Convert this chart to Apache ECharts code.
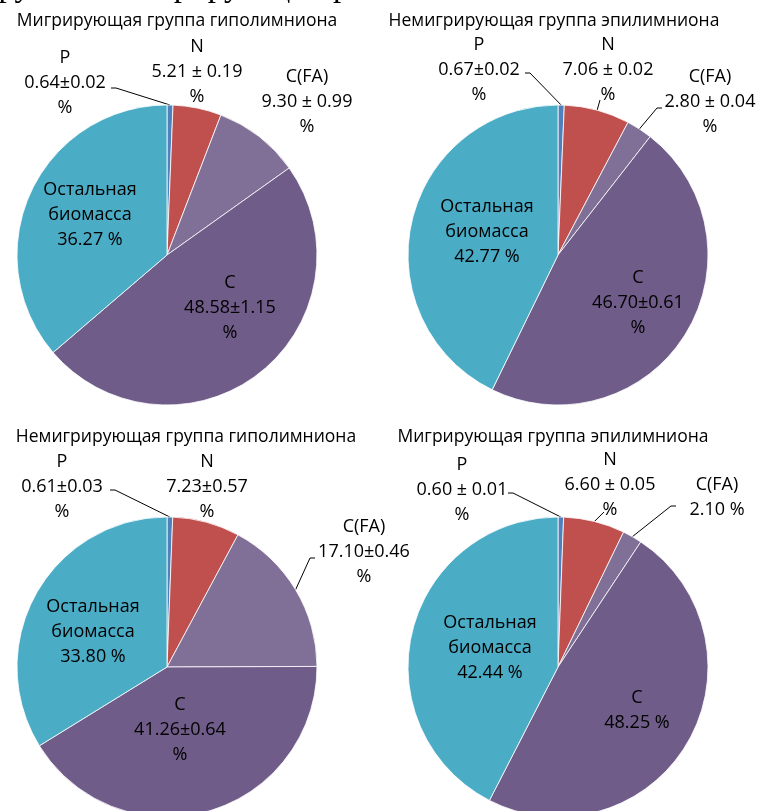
<!DOCTYPE html>
<html>
<head>
<meta charset="utf-8">
<script src="https://cdn.jsdelivr.net/npm/echarts@6/dist/echarts.min.js"></script>
<style>
  html, body { margin: 0; padding: 0; background: #ffffff; }
  #chart { width: 759px; height: 811px; }
</style>
</head>
<body>
<div id="chart"></div>
<script>
// Slice categories (clockwise from 12 o'clock)
const parts = ['P', 'N', 'C(FA)', 'C', 'Остальная биомасса'];

// Panel titles
const panelTitles = [
  'Мигрирующая группа гиполимниона',
  'Немигрирующая группа эпилимниона',
  'Немигрирующая группа гиполимниона',
  'Мигрирующая группа эпилимниона'
];

// Content, % of biomass, with ± errors (null = no error given)
const migHypoValues = [0.64, 5.21, 9.30, 48.58, 36.27];
const migHypoErrors = [0.02, 0.19, 0.99, 1.15, null];

const nonmigEpiValues = [0.67, 7.06, 2.80, 46.70, 42.77];
const nonmigEpiErrors = [0.02, 0.02, 0.04, 0.61, null];

const nonmigHypoValues = [0.61, 7.23, 17.10, 41.26, 33.80];
const nonmigHypoErrors = [0.03, 0.57, 0.46, 0.64, null];

const migEpiValues = [0.60, 6.60, 2.10, 48.25, 42.44];
const migEpiErrors = [0.01, 0.05, null, null, null];

// Whether "±" is written with spaces around it in each label
const migHypoSpaced = [false, true, true, false, false];
const nonmigEpiSpaced = [false, true, true, false, false];
const nonmigHypoSpaced = [false, false, false, false, false];
const migEpiSpaced = [true, true, false, false, false];

const sliceColors = ['#4f81bd', '#c0504d', '#806f97', '#6f5c89', '#4bacc6'];

const FONT = '"Open Sans", "Liberation Sans", sans-serif';
const FS = 18;
const LH = 25;
const R = 150;

// Layout of each panel: pie centre, title centre, label centres relative
// to the pie centre (order: P, N, C(FA), C, rest) and leader lines
// (label-side start and knee, relative to the pie centre).
const panels = [
  {
    values: migHypoValues, errors: migHypoErrors, spaced: migHypoSpaced,
    center: [167, 255], title: [177, 21],
    labelPos: [[-102, -172], [30, -183], [140, -153], [63, 53], [-77, -40]],
    leaders: { 0: [[-56, -167], [-51, -167]] }
  },
  {
    values: nonmigEpiValues, errors: nonmigEpiErrors, spaced: nonmigEpiSpaced,
    center: [558, 255], title: [554, 21],
    labelPos: [[-79, -185], [50, -185], [152, -153], [80, 48], [-71, -23]],
    leaders: { 0: [[-33, -182], [-28, -182]], 1: [[42, -155], [42, -155]], 2: [[104, -147], [99, -147]] }
  },
  {
    values: nonmigHypoValues, errors: nonmigHypoErrors, spaced: nonmigHypoSpaced,
    center: [167, 667], title: [186, 437],
    labelPos: [[-105, -180], [40, -180], [197, -115], [13, 63], [-74, -35]],
    leaders: { 0: [[-57, -177], [-52, -177]], 2: [[148, -109], [143, -109]] }
  },
  {
    values: migEpiValues, errors: migEpiErrors, spaced: migEpiSpaced,
    center: [558, 667], title: [553, 437],
    labelPos: [[-96, -177], [52, -182], [159, -170], [79, 43], [-68, -19]],
    leaders: { 0: [[-50, -174], [-45, -174]], 1: [[46, -155], [46, -155]], 2: [[118, -161], [113, -161]] }
  }
];

function labelText(name, v, e, spaced) {
  if (name === 'Остальная биомасса') return 'Остальная\nбиомасса\n' + v.toFixed(2) + ' %';
  if (e === null) return name + '\n' + v.toFixed(2) + ' %';
  const pm = spaced ? ' ± ' : '±';
  return name + '\n' + v.toFixed(2) + pm + e.toFixed(2) + '\n%';
}

// Point on the outer rim at the middle of slice i (clockwise from top)
function rimPoint(values, i, center) {
  const total = values.reduce((a, b) => a + b, 0);
  let cum = 0;
  for (let k = 0; k < i; k++) cum += values[k];
  const frac = (cum + values[i] / 2) / total;
  const ang = frac * 2 * Math.PI;
  return [center[0] + R * Math.sin(ang), center[1] - R * Math.cos(ang)];
}

const series = panels.map((p) => ({
  type: 'pie',
  center: p.center,
  radius: R,
  startAngle: 90,
  clockwise: true,
  silent: true,
  animation: false,
  avoidLabelOverlap: false,
  itemStyle: { borderColor: '#ffffff', borderWidth: 0.8 },
  label: {
    show: true,
    color: '#000000',
    fontFamily: FONT,
    fontSize: FS,
    lineHeight: LH,
    align: 'center',
    overflow: 'none'
  },
  labelLine: { show: false, lineStyle: { color: '#000000', width: 1 } },
  data: parts.map((name, i) => ({
    name: name,
    value: p.values[i],
    itemStyle: { color: sliceColors[i] },
    label: {
      position: i >= 3 ? 'inside' : 'outside',
      overflow: 'none',
      formatter: labelText(name, p.values[i], p.errors[i], p.spaced[i])
    },
    labelLine: { show: p.leaders[i] !== undefined, length: 5, length2: 5 }
  })),
  labelLayout: function (params) {
    const i = params.dataIndex;
    const c = p.center;
    const pos = p.labelPos[i];
    const out = {
      x: c[0] + pos[0],
      y: c[1] + pos[1],
      align: 'center',
      verticalAlign: 'middle'
    };
    const ld = p.leaders[i];
    if (ld) {
      const rim = rimPoint(p.values, i, c);
      out.labelLinePoints = [
        rim,
        [c[0] + ld[1][0], c[1] + ld[1][1]],
        [c[0] + ld[0][0], c[1] + ld[0][1]]
      ];
    }
    return out;
  }
}));

const graphics = panels.map((p, si) => ({
  type: 'text',
  x: p.title[0],
  y: p.title[1],
  style: {
    text: panelTitles[si],
    fill: '#000000',
    font: '17.5px ' + FONT,
    textAlign: 'center',
    textVerticalAlign: 'middle'
  }
}));

// Caption line running off the top edge
graphics.push({
  type: 'text',
  x: -15,
  y: -12.5,
  style: {
    text: 'группа немигрирующих рачков гиполимниона.',
    fill: '#000000',
    font: '33px "Liberation Serif", "DejaVu Serif", serif',
    textAlign: 'left',
    textVerticalAlign: 'middle'
  }
});

const chart = echarts.init(document.getElementById('chart'), null, { renderer: 'canvas' });
chart.setOption({
  backgroundColor: '#ffffff',
  animation: false,
  series: series,
  graphic: graphics
});
</script>
</body>
</html>
